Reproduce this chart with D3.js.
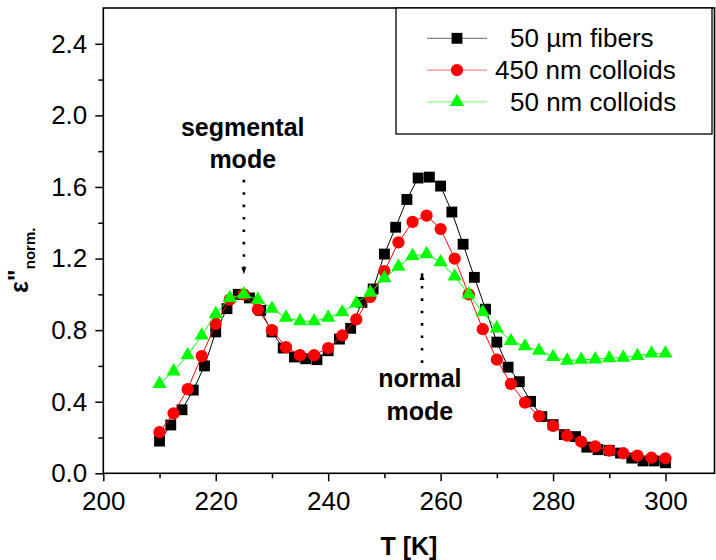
<!DOCTYPE html>
<html>
<head>
<meta charset="utf-8">
<script src="https://cdn.jsdelivr.net/npm/d3@7"></script>
<style>
  body { margin: 0; background: #fff; }
  svg { display: block; font-family: Arial, "Liberation Sans", sans-serif; }
</style>
</head>
<body>
<div id="chart"></div>
<script>
// temperatures (K) of each measurement set
const T_FIBERS = [210, 212, 214, 216, 218, 220, 222, 224, 226, 228, 230, 232, 234, 236, 238, 240,
  242, 244, 246, 248, 250, 252, 254, 256, 258, 260, 262, 264, 266, 268, 270, 272, 274, 276, 278,
  280, 282, 284, 286, 288, 290, 292, 294, 296, 298, 300];
const T_COLLOIDS = [210, 212.5, 215, 217.5, 220, 222.5, 225, 227.5, 230, 232.5, 235, 237.5, 240,
  242.5, 245, 247.5, 250, 252.5, 255, 257.5, 260, 262.5, 265, 267.5, 270, 272.5, 275, 277.5, 280,
  282.5, 285, 287.5, 290, 292.5, 295, 297.5, 300];

// normalised loss values
const FIBERS_50UM = [0.18, 0.27, 0.355, 0.465, 0.60, 0.79, 0.92, 1.0, 0.98, 0.91, 0.79, 0.70, 0.65,
  0.64, 0.635, 0.685, 0.75, 0.81, 0.955, 1.03, 1.225, 1.375, 1.53, 1.65, 1.655, 1.605, 1.46, 1.28,
  1.095, 0.917, 0.733, 0.593, 0.512, 0.402, 0.317, 0.272, 0.216, 0.205, 0.146, 0.132, 0.128, 0.113,
  0.085, 0.069, 0.069, 0.059];
const COLLOIDS_450NM = [0.23, 0.335, 0.47, 0.655, 0.835, 0.97, 1.0, 0.915, 0.80, 0.705, 0.66, 0.66,
  0.70, 0.77, 0.86, 0.985, 1.13, 1.29, 1.405, 1.44, 1.365, 1.20, 1.0, 0.805, 0.635, 0.50, 0.395,
  0.32, 0.265, 0.21, 0.177, 0.15, 0.127, 0.112, 0.099, 0.087, 0.084];
const COLLOIDS_50NM = [0.50, 0.57, 0.66, 0.77, 0.89, 0.98, 1.0, 0.97, 0.92, 0.87, 0.85, 0.85, 0.87,
  0.90, 0.95, 1.01, 1.09, 1.155, 1.215, 1.225, 1.18, 1.10, 1.0, 0.90, 0.81, 0.74, 0.71, 0.685, 0.65,
  0.63, 0.635, 0.637, 0.643, 0.647, 0.656, 0.67, 0.67];

const SERIES_NAMES = ["50 \u00B5m fibers", "450 nm colloids", "50 nm colloids"];
const X_TICKS = [200, 220, 240, 260, 280, 300];
const X_MINOR = [210, 230, 250, 270, 290];
const Y_TICKS = [0, 0.4, 0.8, 1.2, 1.6, 2.0, 2.4];
const Y_MINOR = [0.2, 0.6, 1.0, 1.4, 1.8, 2.2];

const width = 716, height = 560;
const margins = {top: 8, right: 1.5, bottom: 86.7, left: 103.3};

const series = [
  {name: SERIES_NAMES[0], t: T_FIBERS, v: FIBERS_50UM, color: "#000000", lineColor: "#000000",
   symbol: d3.symbolSquare, size: 118},
  {name: SERIES_NAMES[1], t: T_COLLOIDS, v: COLLOIDS_450NM, color: "#ff0000", lineColor: "#ff0000",
   symbol: d3.symbolCircle, size: 118},
  {name: SERIES_NAMES[2], t: T_COLLOIDS, v: COLLOIDS_50NM, color: "#00ff00", lineColor: "#00ff00",
   symbol: d3.symbolTriangle, size: 88}
];

const svg = d3.select("#chart")
  .append("svg")
  .attr("width", width)
  .attr("height", height);

// x: 200..300 spans 562 px, frame runs on to the right edge
const xScale = d3.scaleLinear()
  .domain([200, 300])
  .range([margins.left, margins.left + 562.2]);
const yScale = d3.scaleLinear()
  .domain([0, 2.6])
  .range([height - margins.bottom, margins.top]);

const line = d3.line()
  .x(d => xScale(d[0]))
  .y(d => yScale(d[1]));

// data lines + markers
series.forEach(s => {
  const pts = s.t.map((t, i) => [t, s.v[i]]);
  svg.append("path")
    .attr("d", line(pts))
    .attr("fill", "none")
    .attr("stroke", s.lineColor)
    .attr("stroke-width", 1);
  svg.append("g")
    .selectAll("path")
    .data(pts)
    .join("path")
      .attr("transform", d => `translate(${xScale(d[0])},${yScale(d[1])})`)
      .attr("d", d3.symbol().type(s.symbol).size(s.size))
      .attr("fill", s.color);
});

// axes
const xAxis = svg.append("g")
  .attr("transform", `translate(0,${height - margins.bottom})`)
  .call(d3.axisBottom(xScale).tickValues(X_TICKS).tickSize(8).tickSizeOuter(0).tickPadding(10)
    .tickFormat(d3.format("d")));
svg.append("g")
  .attr("transform", `translate(0,${height - margins.bottom})`)
  .call(d3.axisBottom(xScale).tickValues(X_MINOR).tickSize(5).tickSizeOuter(0).tickFormat(""));

const yAxis = svg.append("g")
  .attr("transform", `translate(${margins.left},0)`)
  .call(d3.axisLeft(yScale).tickValues(Y_TICKS).tickSize(8).tickSizeOuter(0).tickPadding(8)
    .tickFormat(d3.format(".1f")));
svg.append("g")
  .attr("transform", `translate(${margins.left},0)`)
  .call(d3.axisLeft(yScale).tickValues(Y_MINOR).tickSize(5).tickSizeOuter(0).tickFormat(""));

svg.selectAll(".domain").remove();
svg.selectAll(".tick line").attr("stroke", "#000").attr("stroke-width", 1.5);
svg.selectAll(".tick text")
  .attr("fill", "#000")
  .style("font-size", "26px")
  .style("font-family", "Arial, 'Liberation Sans', sans-serif");

// frame
svg.append("rect")
  .attr("x", margins.left)
  .attr("y", margins.top)
  .attr("width", width - margins.right - margins.left)
  .attr("height", height - margins.bottom - margins.top)
  .attr("fill", "none")
  .attr("stroke", "#000")
  .attr("stroke-width", 1.6);

// axis titles
svg.append("text")
  .attr("x", (margins.left + width - margins.right) / 2)
  .attr("y", 555)
  .attr("text-anchor", "middle")
  .style("font-size", "25px")
  .style("font-weight", "bold")
  .text("T [K]");

const yLab = svg.append("text")
  .attr("transform", "translate(28,293) rotate(-90)")
  .style("font-weight", "bold");
yLab.append("tspan").style("font-size", "25px").text("\u03B5");
yLab.append("tspan").style("font-size", "25px").attr("dy", -2).text("\"");
yLab.append("tspan").style("font-size", "15px").attr("dy", 9).text("norm.");

// annotations with dotted arrows
const annotations = [
  {lines: ["segmental", "mode"], tx: 224.8, ty: [1.883, 1.706], ax: 225, from: 1.64, to: 1.112},
  {lines: ["normal", "mode"], tx: 256.3, ty: [0.483, 0.297], ax: 256.7, from: 0.617, to: 1.119}
];

svg.append("defs").append("marker")
  .attr("id", "arrow")
  .attr("viewBox", "0 0 10 10")
  .attr("refX", 10).attr("refY", 5)
  .attr("markerWidth", 7).attr("markerHeight", 7)
  .attr("markerUnits", "userSpaceOnUse")
  .attr("orient", "auto")
  .append("path")
    .attr("d", "M0,1.5L10,5L0,8.5Z")
    .attr("fill", "#000");

annotations.forEach(a => {
  a.lines.forEach((l, i) => {
    svg.append("text")
      .attr("x", xScale(a.tx))
      .attr("y", yScale(a.ty[i]))
      .attr("text-anchor", "middle")
      .style("font-size", "25px")
      .style("font-weight", "bold")
      .text(l);
  });
  svg.append("line")
    .attr("x1", xScale(a.ax)).attr("x2", xScale(a.ax))
    .attr("y1", yScale(a.from)).attr("y2", yScale(a.to))
    .attr("stroke", "#000")
    .attr("stroke-width", 2.6)
    .attr("stroke-dasharray", "2.6 9.8")
    .attr("marker-end", "url(#arrow)");
});

// legend
const legend = svg.append("g");
legend.append("rect")
  .attr("x", 396).attr("y", margins.top)
  .attr("width", 316).attr("height", 126)
  .attr("fill", "#fff")
  .attr("stroke", "#000")
  .attr("stroke-width", 1.3);

const textX = [510, 495, 510];
series.forEach((s, i) => {
  const cy = 38.3 + i * 31.8;
  legend.append("line")
    .attr("x1", 427).attr("x2", 487)
    .attr("y1", cy).attr("y2", cy)
    .attr("stroke", s.lineColor)
    .attr("stroke-width", 1)
    .attr("stroke-opacity", 0.6);
  legend.append("path")
    .attr("transform", `translate(457,${cy})`)
    .attr("d", d3.symbol().type(s.symbol).size(s.size))
    .attr("fill", s.color);
  legend.append("text")
    .attr("x", textX[i])
    .attr("y", cy)
    .attr("dy", "0.35em")
    .style("font-size", "26px")
    .text(s.name);
});
</script>
</body>
</html>
